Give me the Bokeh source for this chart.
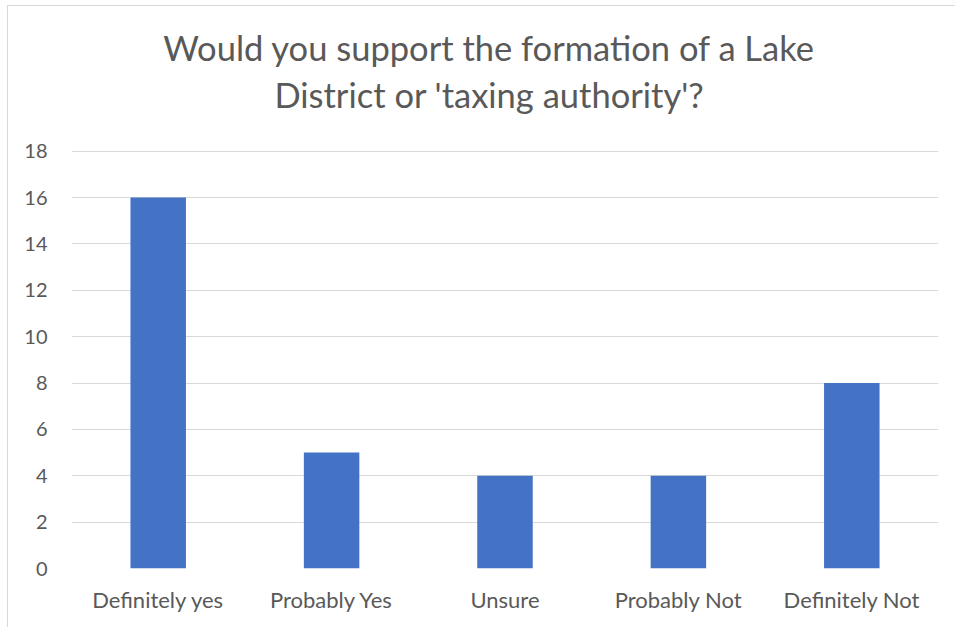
from bokeh.plotting import figure
from bokeh.models import FixedTicker, Range1d, Label
from bokeh.embed import file_html
from bokeh.resources import INLINE

categories = ["Definitely yes", "Probably Yes", "Unsure", "Probably Not", "Definitely Not"]
counts = [16, 5, 4, 4, 8]
y_ticks = [0, 2, 4, 6, 8, 10, 12, 14, 16, 18]
title_lines = ["Would you support the formation of a Lake", "District or 'taxing authority'?"]

FONT = "Lato"
GRAY = "#595959"

p = figure(x_range=categories, width=948, height=622, output_backend="svg",
           toolbar_location=None, title=None,
           min_border_left=63, min_border_right=18, min_border_bottom=60, min_border_top=10)
# extra headroom above the top tick holds the two-line title
p.y_range = Range1d(0, 23.81)

p.vbar(x=categories, top=counts, width=0.32, color="#4472C4", line_color=None)

for txt, ty in zip(title_lines, [22.48, 20.46]):
    p.add_layout(Label(x=2.41, y=ty, text=txt, text_align="center", text_baseline="middle",
                       text_font=FONT, text_font_size="34.5px", text_color=GRAY))

p.yaxis.ticker = FixedTicker(ticks=y_ticks)
for ax in (p.xaxis, p.yaxis):
    ax.axis_line_color = None
    ax.major_tick_line_color = None
    ax.minor_tick_line_color = None
    ax.major_tick_out = 0
    ax.major_tick_in = 0
    ax.major_label_text_font = FONT
    ax.major_label_text_color = GRAY
p.xaxis.major_label_text_font_size = "22px"
p.yaxis.major_label_text_font_size = "20px"
p.xaxis.major_label_standoff = 17
p.yaxis.major_label_standoff = 24

p.xgrid.grid_line_color = None
p.ygrid.grid_line_color = "#d9d9d9"
p.ygrid.grid_line_width = 1
p.outline_line_color = None
p.styles = {"border-left": "1px solid #d9d9d9", "border-top": "1px solid #d9d9d9",
            "box-sizing": "border-box", "margin-left": "7px", "margin-top": "5px"}

open("out.html", "w").write(file_html(p, INLINE))
